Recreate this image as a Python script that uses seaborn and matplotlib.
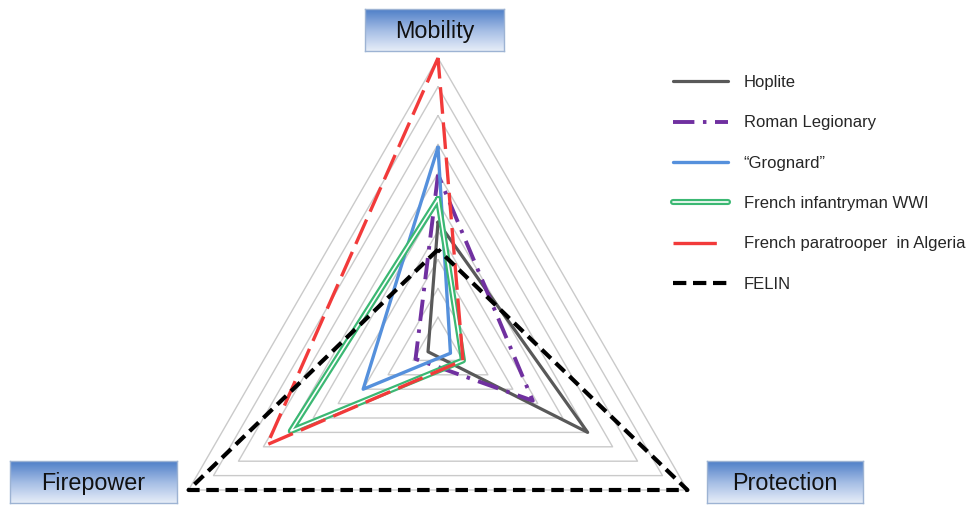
import numpy as np
import matplotlib
matplotlib.use("Agg")
import matplotlib.pyplot as plt
import matplotlib.patheffects as pe
from matplotlib.lines import Line2D
from matplotlib.colors import LinearSegmentedColormap
import seaborn as sns

# axes of the radar and the score of each soldier (scale 0-10)
categories = ["Mobility", "Firepower", "Protection"]
series_names = ["Hoplite", "Roman Legionary", "\u201cGrognard\u201d",
                "French infantryman WWI", "French paratrooper  in Algeria", "FELIN"]
hoplite = [4.3, 0.4, 6.0]
roman = [5.95, 0.9, 3.8]
grognard = [6.9, 3.0, 0.5]
ww1 = [5.1, 5.9, 1.0]
para = [10.0, 6.85, 1.0]
felin = [3.35, 10.0, 10.0]
grid_levels = list(range(1, 11))

sns.set_theme(style="white")
plt.rcParams["font.family"] = ["Liberation Sans", "DejaVu Sans"]

fig = plt.figure(figsize=(9.72, 5.11), dpi=100)

# polar axes, centre of the triangle at (438, 346) px, r=10 -> 288 px
rmax = 10.4
R = 288 * rmax / 10
cx, cy = 438, 511 - 346
ax = fig.add_axes([(cx - R) / 972, (cy - R) / 511, 2 * R / 972, 2 * R / 511],
                  projection="polar")
ax.set_ylim(0, rmax)
ax.set_axis_off()

theta = np.deg2rad([90, 210, 330, 450])  # Mobility, Firepower, Protection, back to Mobility

def closed(vals):
    return list(vals) + [vals[0]]

for lev in grid_levels:
    sns.lineplot(x=theta, y=[lev] * 4, ax=ax, sort=False, estimator=None,
                 color="#cacaca", lw=1.0, legend=False)

styles = [
    dict(color="#595959", lw=2.3, linestyle="-"),
    dict(color="#7030a0", lw=2.8, linestyle=(0, (5.5, 2.2, 0.9, 2.2))),
    dict(color="#5590dc", lw=2.4, linestyle="-"),
    dict(color="white", lw=1.2, linestyle="-",
         path_effects=[pe.Stroke(linewidth=4.4, foreground="#3bb873"), pe.Normal()]),
    dict(color="#f23a3a", lw=2.4, linestyle=(0, (8, 2.6))),
    dict(color="black", lw=3.0, linestyle=(0, (3.0, 1.6))),
]
data = [hoplite, roman, grognard, ww1, para, felin]
for vals, st in zip(data, styles):
    sns.lineplot(x=theta, y=closed(vals), ax=ax, sort=False, estimator=None,
                 legend=False, **st)

# gradient label boxes
cmap = LinearSegmentedColormap.from_list("box", ["#4f7fc8", "#a3bce4", "#e6edf8"])
grad = np.linspace(0, 1, 64).reshape(-1, 1)
boxes = [(365, 9, 504, 51), (10, 461, 177, 503), (707, 461, 863, 503)]
for name, (x0, y0, x1, y1) in zip(categories, boxes):
    bax = fig.add_axes([x0 / 972, 1 - y1 / 511, (x1 - x0) / 972, (y1 - y0) / 511])
    bax.imshow(grad, cmap=cmap, aspect="auto", extent=(0, 1, 0, 1))
    bax.set_xticks([])
    bax.set_yticks([])
    for sp in bax.spines.values():
        sp.set_color("#9db3d3")
        sp.set_linewidth(1.0)
    bax.text(0.5, 0.47, name, ha="center", va="center", fontsize=16.8,
             color="#111111", transform=bax.transAxes)

# legend
handles = [Line2D([], [], **styles[0]),
           Line2D([], [], **styles[1]),
           Line2D([], [], **styles[2]),
           Line2D([], [], **styles[3]),
           Line2D([], [], color="#f23a3a", lw=2.4, linestyle=(0, (13, 10))),
           Line2D([], [], color="black", lw=3.0, linestyle=(0, (3.2, 1.6)))]
fig.legend(handles, series_names, loc="upper left",
           bbox_to_anchor=(673 / 972, 1 - 75 / 511), frameon=False,
           handlelength=3.3, handletextpad=0.95, labelspacing=1.52,
           borderpad=0, borderaxespad=0, fontsize=12)

fig.savefig("out.png", dpi=100, facecolor="white")
